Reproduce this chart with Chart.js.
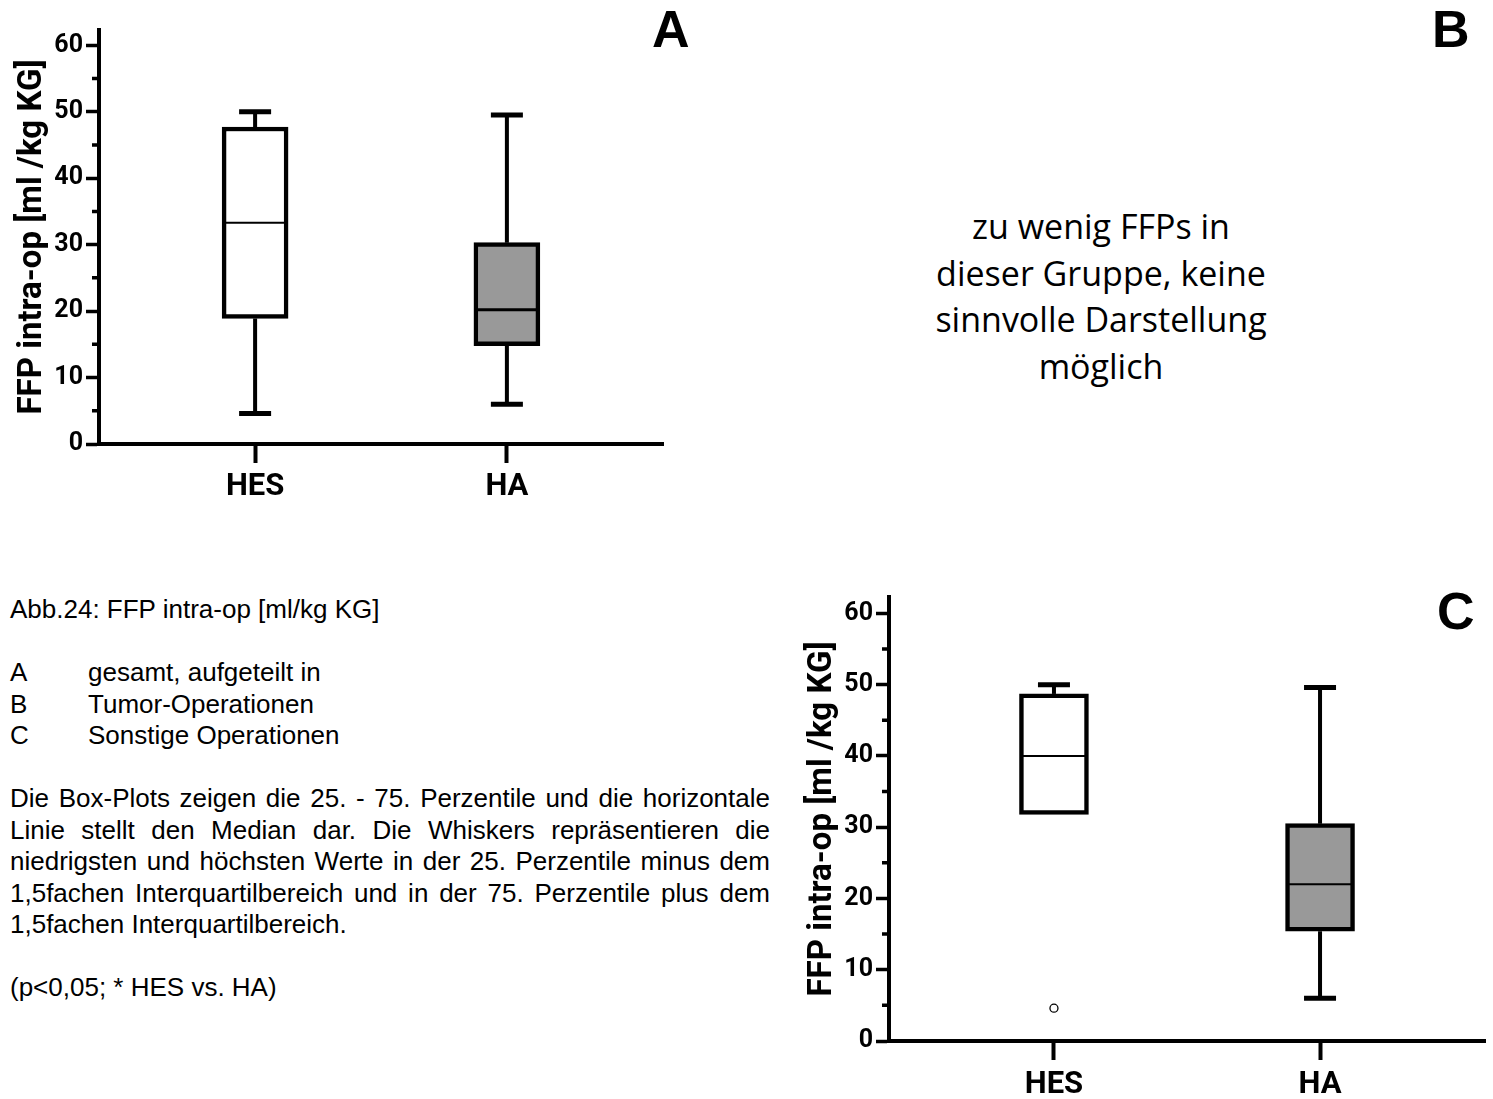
<!DOCTYPE html>
<html>
<head>
<meta charset="utf-8">
<script src="https://cdn.jsdelivr.net/npm/chart.js@4.4.1/dist/chart.umd.min.js"></script>
<style>
  body { margin: 0; width: 1493px; height: 1099px; position: relative; background: #fff; overflow: hidden; }
  canvas { position: absolute; }
  .panel { position: absolute; font: bold 52px "Liberation Sans", Arial, sans-serif; line-height: 52px; color: #000; }
  #noteB { position: absolute; left: 851px; top: 203px; width: 500px; text-align: center;
           font: 34px "Open Sans", sans-serif; line-height: 46.5px; color: #000; }
  #caption { position: absolute; left: 10px; top: 594px; width: 760px;
             font: 26px "Liberation Sans", Arial, sans-serif; line-height: 31.5px; color: #000; }
  #caption .row span { display: inline-block; width: 78px; }
  #caption .j { text-align: justify; text-align-last: justify; white-space: nowrap; }
</style>
</head>
<body>
<canvas id="chartA" width="700" height="520" style="left:0;top:0"></canvas>
<canvas id="chartC" width="703" height="529" style="left:790px;top:570px"></canvas>

<div class="panel" style="left:652px;top:3px">A</div>
<div class="panel" style="left:1432px;top:3px">B</div>
<div class="panel" style="left:1437px;top:585px">C</div>

<div id="noteB">zu wenig FFPs in<br>dieser Gruppe, keine<br>sinnvolle Darstellung<br>möglich</div>

<div id="caption">
  <div>Abb.24: FFP intra-op [ml/kg KG]</div>
  <div>&nbsp;</div>
  <div class="row"><span>A</span>gesamt, aufgeteilt in</div>
  <div class="row"><span>B</span>Tumor-Operationen</div>
  <div class="row"><span>C</span>Sonstige Operationen</div>
  <div>&nbsp;</div>
  <div class="j">Die Box-Plots zeigen die 25. - 75. Perzentile und die horizontale</div>
  <div class="j">Linie stellt den Median dar. Die Whiskers repräsentieren die</div>
  <div class="j">niedrigsten und höchsten Werte in der 25. Perzentile minus dem</div>
  <div class="j">1,5fachen Interquartilbereich und in der 75. Perzentile plus dem</div>
  <div>1,5fachen Interquartilbereich.</div>
  <div>&nbsp;</div>
  <div>(p&lt;0,05; * HES vs. HA)</div>
</div>

<script>
// groups and axis ticks
const groups = ["HES", "HA"];
const yTicks = [0, 10, 20, 30, 40, 50, 60];
const minorTicks = [5, 15, 25, 35, 45, 55];
const boxColors = ["#ffffff", "#999999"];

// A: gesamt
const minA = [4.6, 6.0];
const q1A = [18.9, 14.8];
const medA = [33.3, 20.2];
const q3A = [47.7, 30.3];
const maxA = [50.0, 49.5];
const outA = [[], []];

// C: sonstige Operationen
const minC = [31.8, 6.0];
const q1C = [31.8, 15.4];
const medC = [40.0, 22.0];
const q3C = [48.7, 30.5];
const maxC = [50.0, 49.6];
const outC = [[4.6], []];

Chart.defaults.font.family = "Roboto";
Chart.defaults.color = "#000";

// whiskers, caps, medians and the short minor ticks
const boxExtras = {
  id: "boxExtras",
  afterDatasetsDraw(chart, args, opts) {
    const { ctx } = chart;
    const xs = chart.scales.x, ys = chart.scales.y;
    ctx.save();
    ctx.strokeStyle = "#000";
    ctx.lineCap = "butt";
    groups.forEach((g, i) => {
      const x = xs.getPixelForValue(i + 1);
      const half = opts.boxWidth / 2;
      ctx.lineWidth = 4;
      ctx.beginPath();
      ctx.moveTo(x, ys.getPixelForValue(opts.q3[i]));
      ctx.lineTo(x, ys.getPixelForValue(opts.max[i]));
      if (opts.min[i] < opts.q1[i]) {
        ctx.moveTo(x, ys.getPixelForValue(opts.q1[i]));
        ctx.lineTo(x, ys.getPixelForValue(opts.min[i]));
      }
      ctx.stroke();
      ctx.lineWidth = 5;
      ctx.beginPath();
      ctx.moveTo(x - 16, ys.getPixelForValue(opts.max[i]));
      ctx.lineTo(x + 16, ys.getPixelForValue(opts.max[i]));
      if (opts.min[i] < opts.q1[i]) {
        ctx.moveTo(x - 16, ys.getPixelForValue(opts.min[i]));
        ctx.lineTo(x + 16, ys.getPixelForValue(opts.min[i]));
      }
      ctx.stroke();
      ctx.lineWidth = opts.medWidth[i];
      ctx.beginPath();
      ctx.moveTo(x - half + 3, ys.getPixelForValue(opts.med[i]));
      ctx.lineTo(x + half - 3, ys.getPixelForValue(opts.med[i]));
      ctx.stroke();
    });
    ctx.lineWidth = 3.5;
    ctx.beginPath();
    minorTicks.forEach(v => {
      const y = ys.getPixelForValue(v);
      ctx.moveTo(ys.right - 7, y);
      ctx.lineTo(ys.right, y);
    });
    ctx.stroke();
    ctx.restore();
  }
};

function boxChart(id, mins, q1s, meds, q3s, maxs, outs, cfg) {
  const outliers = [];
  outs.forEach((list, i) => list.forEach(v => outliers.push({ x: i + 1, y: v })));
  return new Chart(document.getElementById(id), {
    type: "bar",
    data: {
      datasets: [{
        data: groups.map((g, i) => ({ x: i + 1, y: [q1s[i], q3s[i]] })),
        backgroundColor: boxColors,
        borderColor: "#000",
        borderWidth: 4.5,
        borderSkipped: false,
        barThickness: cfg.boxWidth,
        grouped: false
      }, {
        type: "scatter",
        data: outliers,
        pointRadius: 4,
        pointBackgroundColor: "#fff",
        pointBorderColor: "#000",
        pointBorderWidth: 1.3
      }]
    },
    options: {
      responsive: false,
      animation: false,
      layout: { padding: cfg.padding },
      plugins: {
        legend: { display: false },
        tooltip: { enabled: false },
        boxExtras: { min: mins, q1: q1s, med: meds, q3: q3s, max: maxs, boxWidth: cfg.boxWidth, medWidth: cfg.medWidth }
      },
      scales: {
        x: {
          type: "linear",
          min: 0.38,
          max: 2.62,
          offset: false,
          afterBuildTicks: s => { s.ticks = groups.map((g, i) => ({ value: i + 1 })); },
          afterFit: s => { s.height = cfg.xHeight; },
          grid: { offset: false, drawOnChartArea: false, tickLength: 19, tickWidth: 4, tickColor: "#000" },
          border: { display: true, color: "#000", width: 4 },
          ticks: { padding: cfg.xPad, font: { size: 31, weight: "bold" }, callback: (v, i) => groups[i] }
        },
        y: {
          min: 0,
          max: 62.3,
          afterBuildTicks: s => { s.ticks = yTicks.map(v => ({ value: v })); },
          afterFit: s => { s.width = 99; },
          grid: { drawOnChartArea: false, tickLength: 13, tickWidth: 3.5, tickColor: "#000" },
          border: { display: true, color: "#000", width: 4 },
          ticks: { padding: 3, font: { size: 25, weight: "bold" } },
          title: {
            display: true,
            text: "FFP intra-op [ml /kg KG]",
            font: { size: 33, weight: "bold" },
            padding: { top: 13, bottom: 0 }
          }
        }
      }
    },
    plugins: [boxExtras]
  });
}

boxChart("chartA", minA, q1A, medA, q3A, maxA, outA,
  { boxWidth: 66, medWidth: [2, 3], xHeight: 76, xPad: 6, padding: { top: 30, right: 37, bottom: 0, left: 0 } });
boxChart("chartC", minC, q1C, medC, q3C, maxC, outC,
  { boxWidth: 69, medWidth: [2, 2], xHeight: 58, xPad: 7, padding: { top: 27, right: 8, bottom: 0, left: 0 } });
</script>
</body>
</html>
